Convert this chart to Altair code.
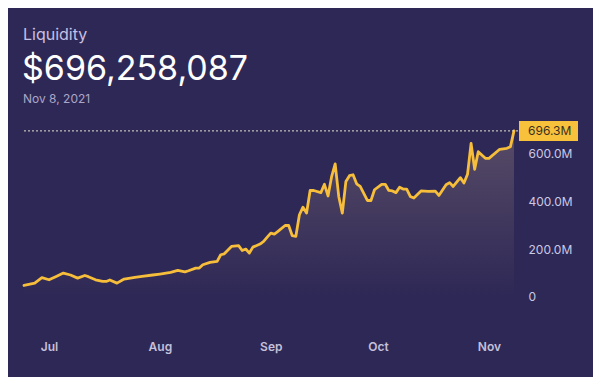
import altair as alt
import pandas as pd

# ---- data ----
dates = ["2021-06-24","2021-06-27","2021-06-29","2021-07-01","2021-07-03","2021-07-05","2021-07-07","2021-07-09","2021-07-11","2021-07-12",
         "2021-07-14","2021-07-16","2021-07-17","2021-07-18","2021-07-20","2021-07-22","2021-07-25","2021-07-27","2021-07-30","2021-08-01",
         "2021-08-04","2021-08-06","2021-08-08","2021-08-09","2021-08-11","2021-08-12","2021-08-13","2021-08-15","2021-08-17","2021-08-18",
         "2021-08-19","2021-08-21","2021-08-23","2021-08-24","2021-08-25","2021-08-26","2021-08-27","2021-08-29","2021-08-30","2021-08-31",
         "2021-09-01","2021-09-02","2021-09-03","2021-09-05","2021-09-06","2021-09-07","2021-09-08","2021-09-09","2021-09-10","2021-09-11",
         "2021-09-12","2021-09-13","2021-09-15","2021-09-16","2021-09-17","2021-09-18","2021-09-19","2021-09-20","2021-09-21","2021-09-22",
         "2021-09-23","2021-09-24","2021-09-25","2021-09-26","2021-09-28","2021-09-29","2021-09-30","2021-10-02","2021-10-03","2021-10-04",
         "2021-10-05","2021-10-06","2021-10-07","2021-10-08","2021-10-09","2021-10-10","2021-10-11","2021-10-13","2021-10-15","2021-10-17",
         "2021-10-18","2021-10-20","2021-10-21","2021-10-22","2021-10-24","2021-10-25","2021-10-26","2021-10-27","2021-10-28","2021-10-29",
         "2021-10-31","2021-11-01","2021-11-04","2021-11-06","2021-11-07","2021-11-08"]
liquidity_m = [47,57,80,71,85,99,91,78,89,84,
               71,64,64,70,57,74,81,85,91,95,
               102,110,104,109,120,120,134,144,148,176,
               180,211,214,194,200,183,208,221,232,250,
               267,263,274,299,299,256,253,344,376,351,
               446,446,437,472,423,504,558,421,351,484,
               508,512,474,463,404,404,449,472,472,446,
               444,437,460,452,452,421,414,444,442,443,
               425,470,479,463,500,477,514,644,535,609,
               581,581,619,623,630,696.258087]
y_ticks = [0, 200e6, 400e6, 600e6]
title_text = "Liquidity"

df = pd.DataFrame({"date": dates, "value": [v * 1e6 for v in liquidity_m]})
last = df.iloc[[-1]].copy()
last_date = pd.Timestamp(last["date"].iloc[0])
last["big"] = f"${last['value'].iloc[0]:,.0f}"
last["day"] = f"{last_date.strftime('%b')} {last_date.day}, {last_date.year}"
last["badge"] = f"{last['value'].iloc[0] / 1e6:.1f}M"
last["title"] = title_text

W, H = 490, 200
BG = "#2E2856"
GOLD = "#F6BE3A"

xenc = alt.X("date:T", title=None,
             scale=alt.Scale(type="utc", domain=["2021-06-24", "2021-11-08"]),
             axis=alt.Axis(format="%b", tickCount={"interval": "month", "step": 1},
                           domain=False, ticks=False, grid=False, labelPadding=11,
                           labelColor="#C4C0DA", labelFontSize=12, labelFontWeight=600,
                           labelFont="Inter"))
yscale = alt.Scale(domain=[-140e6, 700e6], nice=False, zero=False)
yenc = alt.Y("value:Q", title=None, scale=yscale,
             axis=alt.Axis(orient="right", values=y_ticks, domain=False, ticks=False, grid=False,
                           labelPadding=14, labelColor="#CCC8E2", labelFontSize=12, labelFont="Inter",
                           labelExpr="datum.value == 0 ? '0' : format(datum.value / 1e6, '.1f') + 'M'"))

area = alt.Chart(df).mark_area(
    interpolate="linear",
    fill=alt.Gradient(gradient="linear", x1=1, x2=1, y1=0, y2=1,
                      stops=[alt.GradientStop(color="rgba(200,170,145,0.27)", offset=0),
                             alt.GradientStop(color="rgba(200,170,145,0.09)", offset=0.65),
                             alt.GradientStop(color="rgba(200,170,145,0.0)", offset=1)])
).encode(x=xenc, y=yenc, y2=alt.value(H))

line = alt.Chart(df).mark_line(color=GOLD, strokeWidth=2.8, strokeJoin="round", strokeCap="round").encode(
    x="date:T", y="value:Q")

rule = alt.Chart(last).mark_rule(color="#E6E1CF", strokeDash=[2, 2], strokeWidth=1).encode(
    y="value:Q", x=alt.value(0), x2=alt.value(W + 6))

badge = alt.Chart(last).mark_rect(color="#F8C13C", yOffset=-10, y2Offset=10).encode(
    y="value:Q", y2="value:Q", x=alt.value(W + 5), x2=alt.value(W + 64))

badge_txt = alt.Chart(last).mark_text(align="left", baseline="middle", fontSize=12, font="Inter",
                                      color="#3A3020").encode(
    y="value:Q", x=alt.value(W + 14), text="badge:N")

t1 = alt.Chart(last).mark_text(align="left", baseline="alphabetic", fontSize=16, font="Inter",
                               color="#C6C0E2").encode(x=alt.value(-1), y=alt.value(-90), text="title:N")
t2 = alt.Chart(last).mark_text(align="left", baseline="alphabetic", fontSize=34, font="Inter",
                               color="#FFFFFF").encode(x=alt.value(-2), y=alt.value(-50), text="big:N")
t3 = alt.Chart(last).mark_text(align="left", baseline="alphabetic", fontSize=12, font="Inter",
                               color="#ABA6C8").encode(x=alt.value(-1), y=alt.value(-27), text="day:N")

chart = alt.layer(area, line, rule, badge, badge_txt, t1, t2, t3).properties(
    width=W, height=H,
    background=BG,
    padding={"left": 16, "top": 122, "right": 79, "bottom": 47},
    autosize=alt.AutoSizeParams(type="none"),
).configure(font="Inter").configure_view(stroke="transparent", strokeWidth=0)

chart.save("out.html", embed_options={"renderer": "svg", "actions": False})
